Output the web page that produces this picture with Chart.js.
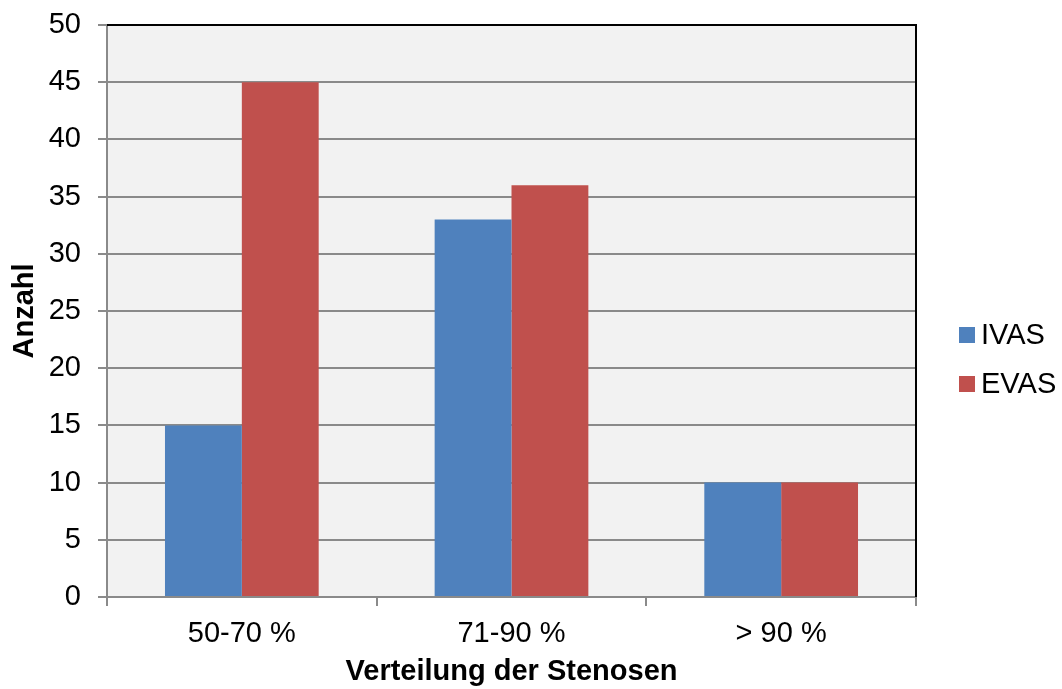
<!DOCTYPE html>
<html>
<head>
<meta charset="utf-8">
<script src="https://cdn.jsdelivr.net/npm/chart.js@4"></script>
<style>
  html, body { margin: 0; padding: 0; background: #ffffff; }
  #wrap { width: 1062px; height: 689px; }
</style>
</head>
<body>
<div id="wrap"><canvas id="c" width="1062" height="689"></canvas></div>
<script>
// Stenosis grade categories and counts per group
const categories = ['50-70 %', '71-90 %', '> 90 %'];
const ivas = [15, 33, 10];
const evas = [45, 36, 10];
const seriesNames = ['IVAS', 'EVAS'];
const seriesColors = ['#4f81bd', '#c0504d'];
const yTitle = 'Anzahl';
const xTitle = 'Verteilung der Stenosen';

const FONT = 'Liberation Sans, Arial, sans-serif';
const gridGrey = '#8a8a8a';

// Grey plot background plus black top/right frame
const plotFrame = {
  id: 'plotFrame',
  beforeDraw(chart) {
    const { ctx, chartArea: a } = chart;
    ctx.save();
    ctx.fillStyle = '#f2f2f2';
    ctx.fillRect(a.left, a.top, a.right - a.left, a.bottom - a.top);
    ctx.restore();
  },
  afterDraw(chart) {
    const { ctx, chartArea: a } = chart;
    ctx.save();
    ctx.strokeStyle = '#000000';
    ctx.lineWidth = 2;
    ctx.beginPath();
    ctx.moveTo(a.left, a.top);
    ctx.lineTo(a.right, a.top);
    ctx.lineTo(a.right, a.bottom);
    ctx.stroke();
    ctx.restore();
  }
};

// Legend at the right side of the plot
const sideLegend = {
  id: 'sideLegend',
  afterDraw(chart) {
    const { ctx } = chart;
    ctx.save();
    ctx.font = '29px ' + FONT;
    ctx.textBaseline = 'middle';
    ctx.textAlign = 'left';
    chart.data.datasets.forEach((ds, i) => {
      const y = 335 + i * 49;
      ctx.fillStyle = ds.backgroundColor;
      ctx.fillRect(959, y - 8, 16, 16);
      ctx.fillStyle = '#000000';
      ctx.fillText(ds.label, 981, y + 1);
    });
    ctx.restore();
  }
};

new Chart(document.getElementById('c'), {
  type: 'bar',
  data: {
    labels: categories,
    datasets: [
      { label: seriesNames[0], data: ivas, backgroundColor: seriesColors[0] },
      { label: seriesNames[1], data: evas, backgroundColor: seriesColors[1] }
    ]
  },
  options: {
    responsive: false,
    animation: false,
    devicePixelRatio: 1,
    categoryPercentage: 0.57,
    barPercentage: 1.0,
    layout: { padding: { top: 25, right: 146, left: 0, bottom: 0 } },
    plugins: {
      legend: { display: false },
      tooltip: { enabled: false }
    },
    scales: {
      x: {
        afterFit(scale) {
          scale.height = 92;
          scale.paddingLeft = 0;
          scale.paddingRight = 0;
        },
        grid: {
          offset: true,
          drawOnChartArea: false,
          drawTicks: true,
          tickLength: 9,
          color: gridGrey,
          lineWidth: 2
        },
        border: { display: true, color: gridGrey, width: 2 },
        ticks: {
          color: '#000000',
          padding: 11,
          font: { family: FONT, size: 29 }
        },
        title: {
          display: true,
          text: xTitle,
          color: '#000000',
          padding: { top: 0, bottom: 0 },
          font: { family: FONT, size: 29, weight: 'bold' }
        }
      },
      y: {
        min: 0,
        max: 50,
        afterFit(scale) {
          scale.width = 107;
          scale.paddingTop = 0;
          scale.paddingBottom = 0;
        },
        grid: {
          drawTicks: true,
          tickLength: 9,
          color: gridGrey,
          lineWidth: 2
        },
        border: { display: true, color: gridGrey, width: 2 },
        ticks: {
          stepSize: 5,
          color: '#000000',
          padding: 17,
          font: { family: FONT, size: 29 }
        },
        title: {
          display: true,
          text: yTitle,
          color: '#000000',
          padding: { top: 8, bottom: 0 },
          font: { family: FONT, size: 29, weight: 'bold' }
        }
      }
    }
  },
  plugins: [plotFrame, sideLegend]
});
</script>
</body>
</html>
